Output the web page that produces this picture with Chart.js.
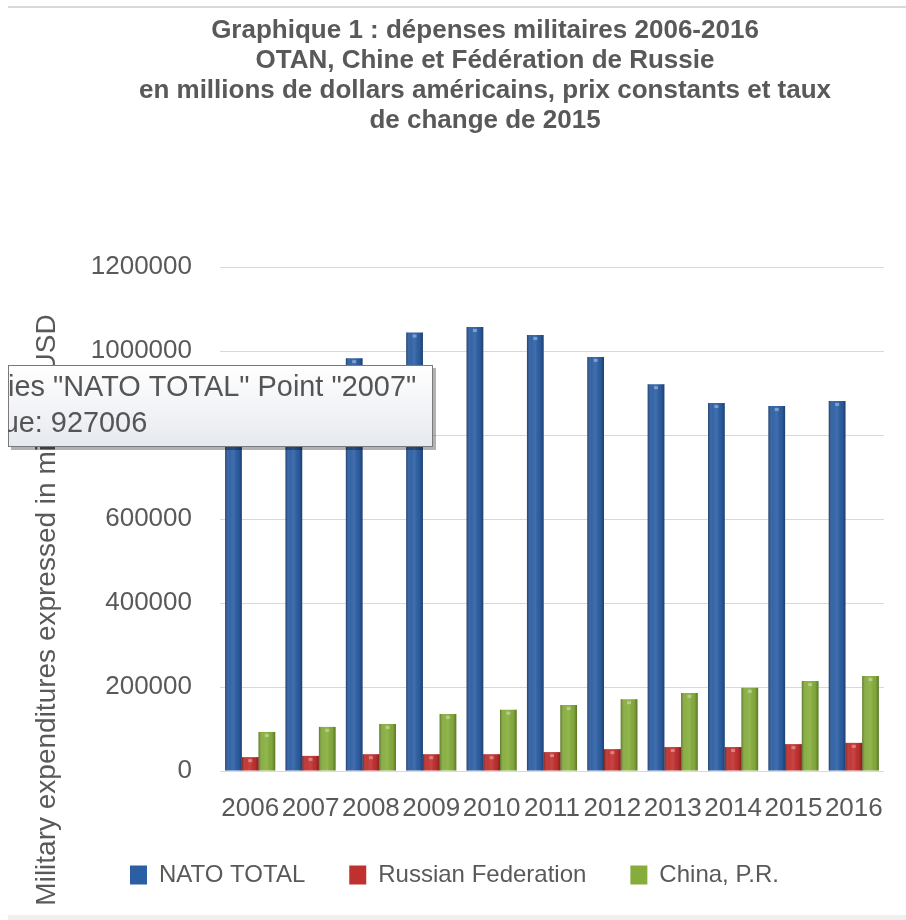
<!DOCTYPE html>
<html>
<head>
<meta charset="utf-8">
<script src="https://cdn.jsdelivr.net/npm/chart.js@4.4.1/dist/chart.umd.min.js"></script>
<style>
  html, body { margin: 0; padding: 0; background: #fff; }
  #wrap { position: relative; width: 906px; height: 920px; }
  #topline { position: absolute; left: 8px; right: 0; top: 6px; height: 2px; background: #d9d9d9; }
  #botline { position: absolute; left: 8px; right: 0; bottom: 0; height: 5px; background: #efefef; }
</style>
</head>
<body>
<div id="wrap">
  <canvas id="chart"></canvas>
  <div id="topline"></div>
  <div id="botline"></div>
</div>
<script>
// values (millions USD, 2015 prices)
const years = ['2006', '2007', '2008', '2009', '2010', '2011', '2012', '2013', '2014', '2015', '2016'];
const nato = [912000, 927006, 983000, 1044000, 1057000, 1038000, 986000, 921000, 876000, 869000, 881000];
const russia = [33000, 36000, 40000, 40000, 40000, 45000, 52000, 57000, 57000, 64000, 67000];
const china = [93000, 105000, 112000, 136000, 146000, 157000, 171000, 186000, 198000, 214000, 226000];
const seriesNames = ['NATO TOTAL', 'Russian Federation', 'China, P.R.'];
const yTicks = [0, 200000, 400000, 600000, 800000, 1000000, 1200000];

const titleLines = [
    'Graphique 1 : dépenses militaires 2006-2016',
    'OTAN, Chine et Fédération de Russie',
    'en millions de dollars américains, prix constants et taux',
    'de change de 2015'
];
const yTitle = 'Military expenditures expressed in millions USD';

const grey = '#595959';
const fam = '"Liberation Sans", Arial, sans-serif';

// darker edges / lighter middle on each bar, like the Excel bevel
const barShade = {
    id: 'barShade',
    afterDatasetsDraw(chart) {
        let ctx = chart.ctx;
        ctx.save();
        chart.data.datasets.forEach((ds, i) => {
            chart.getDatasetMeta(i).data.forEach((bar) => {
                let p = bar.getProps(['x', 'y', 'base', 'width'], true);
                let l = p.x - p.width / 2;
                let g = ctx.createLinearGradient(l, 0, l + p.width, 0);
                g.addColorStop(0, 'rgba(0,0,0,0.32)');
                g.addColorStop(0.25, 'rgba(255,255,255,0.04)');
                g.addColorStop(0.5, 'rgba(255,255,255,0.10)');
                g.addColorStop(0.8, 'rgba(0,0,0,0.04)');
                g.addColorStop(1, 'rgba(0,0,0,0.32)');
                ctx.fillStyle = g;
                ctx.fillRect(l, p.y, p.width, p.base - p.y);
                // small light cap at the top
                ctx.fillStyle = 'rgba(255,255,255,0.35)';
                ctx.fillRect(p.x - 2, p.y + 2, 4, 3);
            });
        });
        ctx.restore();
    }
};

// rotated y title, placed like the original (not centred on the plot)
const yTitlePlugin = {
    id: 'yTitlePlugin',
    afterDraw(chart) {
        let ctx = chart.ctx;
        ctx.save();
        ctx.translate(47, 610);
        ctx.rotate(-Math.PI / 2);
        ctx.font = '28px ' + fam;
        ctx.fillStyle = grey;
        ctx.textAlign = 'center';
        ctx.textBaseline = 'middle';
        ctx.fillText(yTitle, 0, 0);
        ctx.restore();
    }
};

// the hover box left in the screenshot (clipped on its left side)
const hoverBox = {
    id: 'hoverBox',
    afterDraw(chart) {
        let ctx = chart.ctx;
        let idx = 1;
        let line1 = 'Series "' + seriesNames[0] + '" Point "' + years[idx] + '"';
        let line2 = 'Value: ' + nato[idx];
        let bx = 8, by = 365, bw = 425, bh = 82;
        ctx.save();
        ctx.fillStyle = 'rgba(0,0,0,0.3)';
        ctx.fillRect(bx + 3, by + 3, bw, bh);
        let g = ctx.createLinearGradient(0, by, 0, by + bh);
        g.addColorStop(0, '#ffffff');
        g.addColorStop(1, '#e6e9ef');
        ctx.fillStyle = g;
        ctx.fillRect(bx, by, bw, bh);
        ctx.strokeStyle = '#7a7a7a';
        ctx.lineWidth = 1;
        ctx.strokeRect(bx + 0.5, by + 0.5, bw - 1, bh - 1);
        ctx.beginPath();
        ctx.rect(bx, by, bw, bh);
        ctx.clip();
        // size the font so "ies ... "2007"" fills 8..417 as in the screenshot
        ctx.font = '28px ' + fam;
        let visible = line1.slice(3);
        let size = 28 * 409 / ctx.measureText(visible).width;
        ctx.font = size.toFixed(1) + 'px ' + fam;
        let tx = 8 - ctx.measureText(line1.slice(0, 3)).width;
        ctx.fillStyle = '#555555';
        ctx.textBaseline = 'middle';
        ctx.textAlign = 'left';
        ctx.fillText(line1, tx, 388);
        ctx.fillText(line2, tx, 424);
        ctx.restore();
    }
};

const ctx = document.getElementById('chart');

const chart = new Chart(ctx, {
    type: 'bar',
    data: {
        labels: years,
        datasets: [
            { label: seriesNames[0], data: nato, backgroundColor: '#2c5ea3' },
            { label: seriesNames[1], data: russia, backgroundColor: '#c0302e' },
            { label: seriesNames[2], data: china, backgroundColor: '#86ad3c' },
        ],
    },
    options: {
        responsive: true,
        maintainAspectRatio: false,
        animation: false,
        devicePixelRatio: 1,
        layout: { padding: { left: 86, right: 22, top: 0, bottom: 23 } },
        datasets: {
            bar: { categoryPercentage: 0.83, barPercentage: 1.0 },
        },
        scales: {
            x: {
                grid: { display: false },
                border: { display: false },
                ticks: {
                    autoSkip: false,
                    maxRotation: 0,
                    padding: 14,
                    color: grey,
                    font: { family: fam, size: 26 },
                },
                afterFit: (scale) => { scale.height = 48; },
            },
            y: {
                min: 0,
                max: 1200000,
                afterBuildTicks: (scale) => { scale.ticks = yTicks.map((v) => ({ value: v })); },
                grid: { color: '#d9d9d9', drawTicks: false },
                border: { display: false },
                ticks: {
                    padding: 28,
                    color: grey,
                    font: { family: fam, size: 26 },
                    callback: (v) => String(v),
                },
                afterFit: (scale) => { scale.width = 134; },
            },
        },
        plugins: {
            title: {
                display: true,
                text: titleLines,
                color: grey,
                font: { family: fam, size: 26, weight: 'bold', lineHeight: '30px' },
                padding: { top: 16, bottom: 131 },
            },
            legend: {
                position: 'bottom',
                align: 'start',
                labels: {
                    boxWidth: 17,
                    boxHeight: 19,
                    padding: 44,
                    color: grey,
                    font: { family: fam, size: 24 },
                },
            },
            tooltip: { enabled: false },
        },
    },
    plugins: [barShade, yTitlePlugin, hoverBox],
});
</script>
</body>
</html>
